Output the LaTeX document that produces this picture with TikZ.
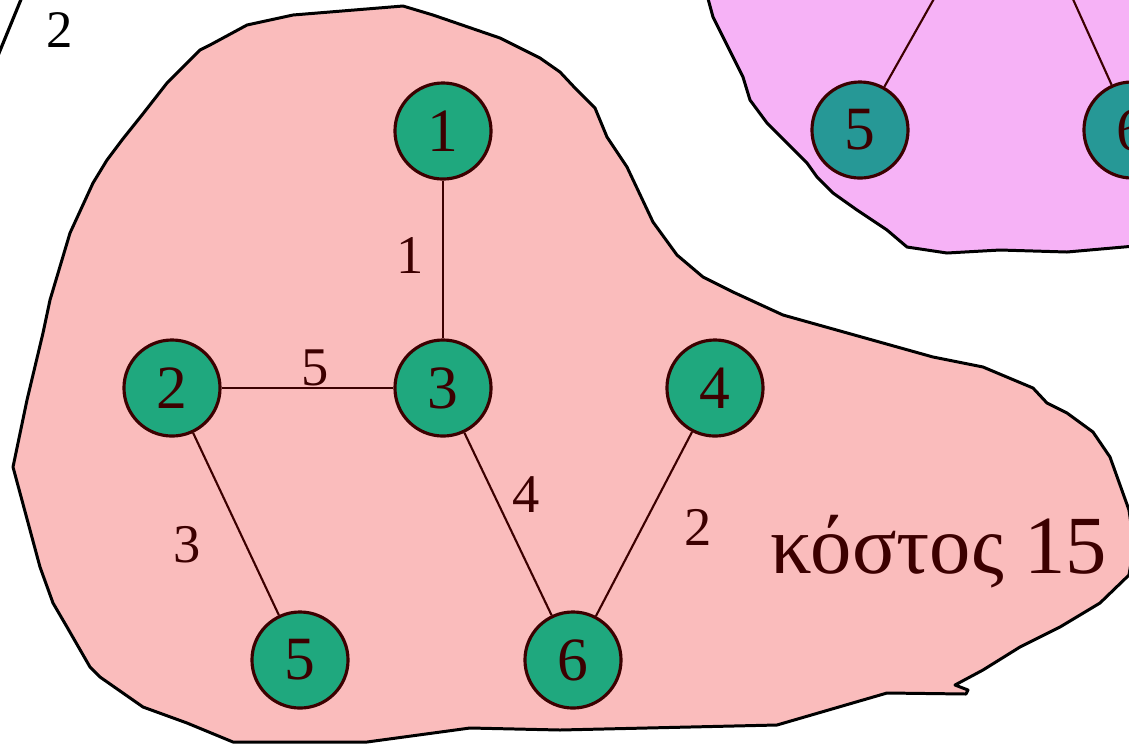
\documentclass[tikz,border=0pt]{standalone}
\usepackage{fontspec}
\setmainfont{Liberation Serif}
\usetikzlibrary{positioning}

\definecolor{blobpink}{RGB}{250,188,188}
\definecolor{blobmag}{RGB}{246,178,246}
\definecolor{nodegreen}{RGB}{31,168,126}
\definecolor{nodeteal}{RGB}{38,152,150}
\definecolor{inkred}{RGB}{60,0,0}

\begin{document}
\begin{tikzpicture}[x=0.01cm, y=-0.01cm,
	vertex/.style={circle, draw=inkred, line width=0.9pt, fill=nodegreen, minimum size=0.96cm, inner sep=0pt, text=inkred, font=\fontsize{17.5}{20}\selectfont},
	edgelabel/.style={text=inkred, inner sep=0pt, font=\fontsize{15.5}{18}\selectfont},
	blob/.style={draw=black, line width=0.85pt, line join=round},
	link/.style={draw=inkred, line width=0.6pt}]
	% --- 1. FRAME ---
	\useasboundingbox (0,0) rectangle (1129,744);
	
	% --- 2. BLOBS ---
	% Magenta blob (top right, cut by the page)
	\path[blob, fill=blobmag] (707,-5) -- (713,17) -- (733,57) -- (743,77) -- (750,100) -- (767,123)
		-- (787,143) -- (807,163) -- (817,177) -- (833,193) -- (857,210) -- (887,230) -- (907,247)
		-- (947,253) -- (1000,250) -- (1067,252) -- (1135,246) -- (1135,-5) -- cycle;
	
	% Pink blob (main tree)
	\path[blob, fill=blobpink] (122,140) -- (142,115) -- (167,83) -- (200,50) -- (210,45) -- (247,25)
		-- (293,15) -- (403,6) -- (433,15) -- (500,38) -- (540,58) -- (560,72) -- (575,88) -- (595,108)
		-- (607,137) -- (627,167) -- (653,222) -- (677,255) -- (703,277) -- (733,292) -- (783,315)
		-- (933,357) -- (983,367) -- (1033,388) -- (1047,403) -- (1067,413) -- (1093,432) -- (1110,457)
		-- (1129,510) -- (1134,545) -- (1129,575) -- (1100,603) -- (1060,627) -- (1020,647) -- (983,670)
		-- (955,685) -- (968,690) -- (966,694) -- (887,693) -- (777,725) -- (560,730) -- (470,728)
		-- (367,742) -- (233,742) -- (187,723) -- (143,707) -- (100,677) -- (90,667) -- (67,627)
		-- (53,603) -- (40,567) -- (13,467) -- (27,400) -- (43,333) -- (50,300) -- (70,233) -- (93,183)
		-- (107,160) -- cycle;
	
	% --- 3. TOP LEFT FRAGMENT ---
	\coordinate (slashA) at (22,-3);
	\coordinate (slashB) at (-3,58);
	\draw[line width=0.9pt] (slashA) -- (slashB);
	\node[text=black, inner sep=0pt, font=\fontsize{15}{17}\selectfont] (pagenum) at (60,30) {2};
	
	% --- 4. TOP RIGHT TREE ---
	\node[vertex, fill=nodeteal] (t5) at (860,130) {5};
	\node[vertex, fill=nodeteal] (t6) at (1132,130) {6};
	\coordinate (t5up) at (935,-3);
	\coordinate (t6up) at (1072,-3);
	\draw[link] (t5) -- (t5up);
	\draw[link] (t6) -- (t6up);
	
	% --- 5. SPANNING TREE ---
	\node[vertex] (v1) at (443,131) {1};
	\node[vertex] (v2) at (172,388) {2};
	\node[vertex] (v3) at (443,388) {3};
	\node[vertex] (v4) at (715,388) {4};
	\node[vertex] (v5) at (300,660) {5};
	\node[vertex] (v6) at (573,660) {6};
	
	\draw[link] (v1) -- (v3);
	\draw[link] (v2) -- (v3);
	\draw[link] (v2) -- (v5);
	\draw[link] (v3) -- (v6);
	\draw[link] (v4) -- (v6);
	
	% Edge weights
	\node[edgelabel] (w13) at (410,255) {1};
	\node[edgelabel] (w23) at (315,368) {5};
	\node[edgelabel] (w36) at (526,495) {4};
	\node[edgelabel] (w25) at (187,545) {3};
	\node[edgelabel] (w46) at (698,527) {2};
	
	% Total cost
	\node[text=inkred, inner sep=0pt, font=\fontsize{23.5}{26}\selectfont] (cost) at (939,552) {κόστος 15};
	
\end{tikzpicture}
\end{document}
